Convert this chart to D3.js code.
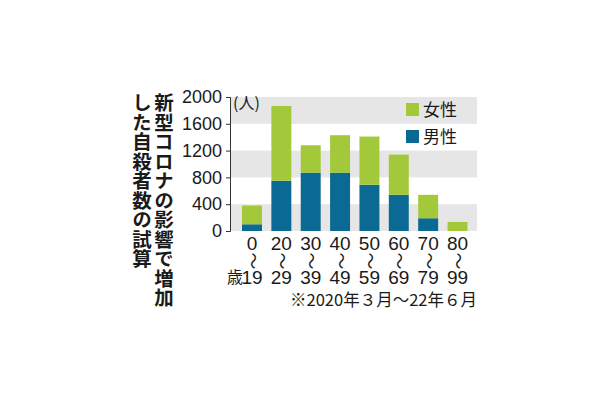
<!DOCTYPE html>
<html><head><meta charset="utf-8">
<script src="https://cdn.jsdelivr.net/npm/d3@7/dist/d3.min.js"></script>
<style>
body{margin:0;background:#fff;}
svg{display:block;}
text{font-family:"Noto Sans CJK JP","Liberation Sans",sans-serif;fill:#1a1a1a;}
.num{font-family:"Liberation Sans Narrow","Liberation Sans",sans-serif;}
</style></head>
<body>
<svg id="c" width="610" height="400"></svg>
<script>
const categories = ["0","20","30","40","50","60","70","80"];
const upperLabels = ["0","20","30","40","50","60","70","80"];
const lowerLabels = ["19","29","39","49","59","69","79","99"];
const male = [100, 750, 870, 870, 690, 540, 190, 0];
const female = [280, 1115, 410, 560, 720, 600, 350, 135];
const yTicks = [0, 400, 800, 1200, 1600, 2000];
const seriesNames = ["女性", "男性"];
const titleLines = ["新型コロナの影響で増加", "した自殺者数の試算"];
const unitLabel = "(人)";
const ageUnit = "歳";
const footnote = "※2020年３月～22年６月";

const colors = {female: "#a3c93a", male: "#0b6a93", band: "#e6e6e6"};

const svg = d3.select("#c");
const x = d3.scaleBand().domain(categories).range([237.3, 472.2]).paddingInner(0.32).paddingOuter(0.16);
const y = d3.scaleLinear().domain([0, 2000]).range([231, 97]);
const plotLeft = 230, plotRight = 477;

// alternating grey bands
const bands = [[0,400],[800,1200],[1600,2000]];
svg.append("g").selectAll("rect").data(bands).join("rect")
  .attr("x", plotLeft).attr("width", plotRight - plotLeft)
  .attr("y", d => y(d[1])).attr("height", d => y(d[0]) - y(d[1]))
  .attr("fill", colors.band);

// stacked bars
const rows = categories.map((c, i) => ({cat: c, male: male[i], female: female[i]}));
const stack = d3.stack().keys(["male", "female"])(rows);
svg.append("g").selectAll("g").data(stack).join("g")
  .attr("fill", d => colors[d.key])
  .selectAll("rect").data(d => d).join("rect")
  .attr("x", d => x(d.data.cat)).attr("width", x.bandwidth())
  .attr("y", d => y(d[1])).attr("height", d => y(d[0]) - y(d[1]));

// y axis
const ax = svg.append("g").attr("transform", `translate(${plotLeft},0)`)
  .call(d3.axisLeft(y).tickValues(yTicks).tickSize(4).tickSizeOuter(4).tickPadding(4).tickFormat(d3.format("d")));
ax.selectAll("path,line").attr("stroke", "#333");
ax.selectAll("text").attr("class", "num").attr("font-size", 18).attr("fill", "#1a1a1a").attr("font-family", null);

// unit
svg.append("text").attr("x", 233).attr("y", 109).attr("font-size", 16).text(unitLabel);

// legend
const legendItems = [{name: seriesNames[0], color: colors.female}, {name: seriesNames[1], color: colors.male}];
const lg = svg.append("g").selectAll("g").data(legendItems).join("g")
  .attr("transform", (d, i) => `translate(406,${103 + i * 27})`);
lg.append("rect").attr("width", 13).attr("height", 13).attr("fill", d => d.color);
lg.append("text").attr("x", 17).attr("y", 7).attr("dy", "0.36em").attr("font-size", 17).text(d => d.name);

// x labels
const xl = svg.append("g");
xl.selectAll("text.u").data(categories).join("text").attr("class", "u num")
  .attr("x", d => x(d) + x.bandwidth() / 2).attr("y", 243).attr("dy", "0.35em")
  .attr("text-anchor", "middle").attr("font-size", 19)
  .text((d, i) => upperLabels[i]);
xl.selectAll("text.w").data(categories).join("text").attr("class", "w")
  .attr("transform", d => `translate(${x(d) + x.bandwidth() / 2},261) rotate(90)`)
  .attr("text-anchor", "middle").attr("dy", "0.32em").attr("font-size", 17)
  .text("～");
xl.selectAll("text.l").data(categories).join("text").attr("class", "l num")
  .attr("x", d => x(d) + x.bandwidth() / 2).attr("y", 277).attr("dy", "0.35em")
  .attr("text-anchor", "middle").attr("font-size", 19)
  .text((d, i) => lowerLabels[i]);
svg.append("text").attr("x", x(categories[0]) + x.bandwidth() / 2 - 9).attr("y", 277).attr("dy", "0.36em")
  .attr("text-anchor", "end").attr("font-size", 16).text(ageUnit);

// footnote
svg.append("text").attr("x", 477).attr("y", 300).attr("dy", "0.36em").attr("text-anchor", "end")
  .attr("font-size", 16.5).text(footnote);

// vertical title
svg.selectAll("text.t").data(titleLines).join("text").attr("class", "t")
  .attr("x", (d, i) => i === 0 ? 164 : 142).attr("y", 93)
  .attr("writing-mode", "vertical-rl").style("text-orientation", "upright")
  .attr("font-size", 19.5).attr("font-weight", 700).attr("fill", "#111")
  .text(d => d);
</script>
</body></html>
